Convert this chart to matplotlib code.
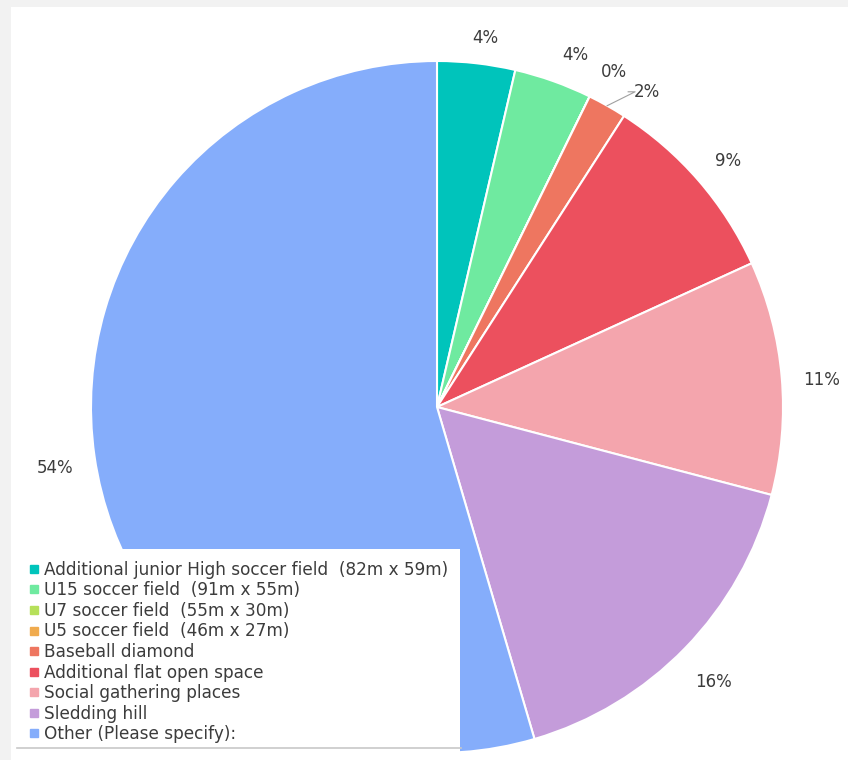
import numpy as np
import matplotlib.pyplot as plt
from matplotlib.patches import Rectangle
from matplotlib.lines import Line2D

# datos
categorias = ['Additional junior High soccer field  (82m x 59m)',
              'U15 soccer field  (91m x 55m)',
              'U7 soccer field  (55m x 30m)',
              'U5 soccer field  (46m x 27m)',
              'Baseball diamond',
              'Additional flat open space',
              'Social gathering places',
              'Sledding hill',
              'Other (Please specify):']
respuestas = [2, 2, 0, 0, 1, 5, 6, 9, 30]
etiquetas = ['4%', '4%', '0%', '', '2%', '9%', '11%', '16%', '54%']
colores = ['#00c4bb', '#6feaa0', '#b6e05a', '#f0ab4e', '#ee7660',
           '#ec505e', '#f4a5ad', '#c49cda', '#85adfb']

W, H = 848, 760
cx, cy, R = 437, 407, 346
txt = '#3c3c3c'

fig = plt.figure(figsize=(W / 100, H / 100), dpi=100, facecolor='#f2f2f2')
fondo = Rectangle((11 / W, 0), 1, 1 - 7 / H, transform=fig.transFigure,
                  facecolor='white', edgecolor='none', zorder=-10)
fig.add_artist(fondo)

ax = fig.add_axes([0, 0, 1, 1])
ax.set_facecolor('none')

wedges, _ = ax.pie(respuestas, colors=colores, startangle=90, counterclock=False,
                   radius=1, wedgeprops=dict(edgecolor='white', linewidth=1.5))
ax.set_aspect('auto')
ax.set_xlim(-cx / R, (W - cx) / R)
ax.set_ylim(-(H - cy) / R, cy / R)
ax.axis('off')

# etiquetas fuera del pastel: las pequeñas van desplazadas (angulo desde arriba, distancia)
ajuste = {0: (7.4, 1.075), 1: (21.4, 1.093), 2: (27.8, 1.095), 4: (33.7, 1.095)}
for i, (w, lab) in enumerate(zip(wedges, etiquetas)):
    if lab == '':
        continue
    mid = np.deg2rad((w.theta1 + w.theta2) / 2)
    d = 1.115
    if i in ajuste:
        a, d = ajuste[i]
        mid = np.deg2rad(90 - a)
    x, y = d * np.cos(mid), d * np.sin(mid)
    if i not in ajuste:
        y -= 0.018
    ax.text(x, y, lab, ha='center', va='center', fontsize=12, color=txt)
    if i == 4:
        m = np.deg2rad((w.theta1 + w.theta2) / 2)
        x0, y0 = np.cos(m), np.sin(m)
        ax.plot([x0, x - 0.035, x - 0.055], [y0, y, y], color='#a0a0a0', lw=0.8)

handles = [Line2D([], [], marker='s', linestyle='none', markersize=5.5,
                  markerfacecolor=c, markeredgecolor=c) for c in colores]
leg = fig.legend(handles, categorias, loc='upper left',
                 bbox_to_anchor=(17 / W, 1 - 549 / H), borderaxespad=0,
                 frameon=True, fancybox=False, fontsize=12.2, labelspacing=0.15,
                 handlelength=0.6, handletextpad=0.3, borderpad=0.7,
                 labelcolor=txt)
leg.get_frame().set_facecolor('white')
leg.get_frame().set_edgecolor('none')
leg.get_frame().set_alpha(1)
fig.add_artist(Line2D([17 / W, 461 / W], [1 - 748 / H] * 2, transform=fig.transFigure,
                      color='#c8c8c8', lw=1.2, zorder=20))

fig.savefig('out.png', dpi=100, facecolor=fig.get_facecolor())
